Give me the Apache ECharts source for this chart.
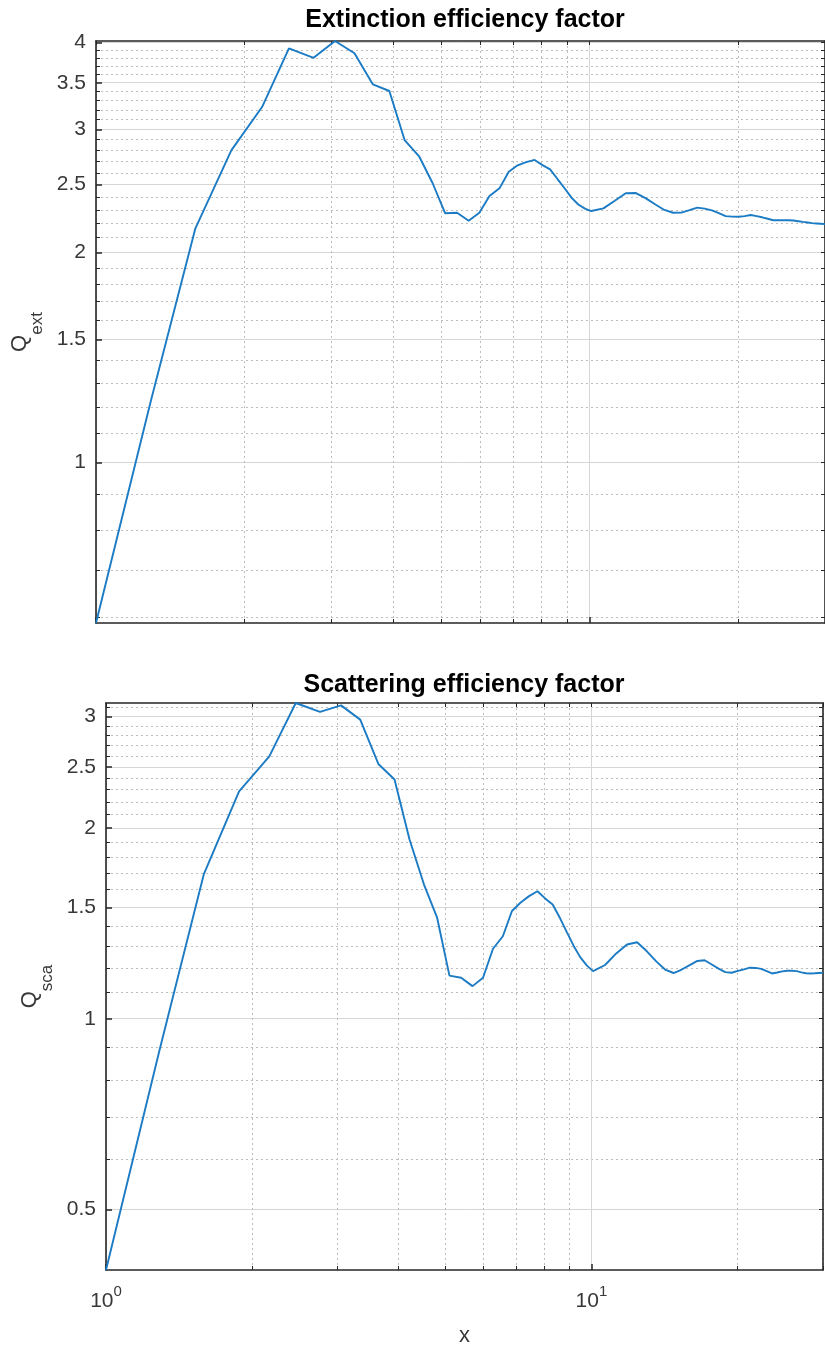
<!DOCTYPE html>
<html>
<head>
<meta charset="utf-8">
<title>Mie efficiency factors</title>
<script src="https://cdn.jsdelivr.net/npm/echarts@6/dist/echarts.min.js"></script>
<style>
  html, body { margin: 0; padding: 0; background: #ffffff; }
  #chart { width: 825px; height: 1348px; }
</style>
</head>
<body>
<div id="chart"></div>
<script>
// Size parameter x at which the efficiencies were evaluated
const sizeParam = [
  1.00, 1.29, 1.59, 1.88, 2.17, 2.46, 2.76, 3.05, 3.34, 3.64,
  3.93, 4.22, 4.52, 4.81, 5.10, 5.39, 5.69, 5.98, 6.27, 6.57,
  6.86, 7.15, 7.44, 7.74, 8.03, 8.32, 8.62, 8.91, 9.20, 9.49,
  9.79, 10.08, 10.67, 11.25, 11.84, 12.42, 13.01, 13.60, 14.18, 14.77,
  15.35, 15.94, 16.53, 17.11, 17.70, 18.28, 18.87, 19.45, 20.04, 20.63,
  21.21, 21.80, 22.38, 22.97, 23.56, 24.14, 24.73, 25.31, 25.90, 26.49,
  27.07, 27.66, 28.24, 28.83, 29.41, 30.00
];

// Extinction efficiency Q_ext
const qExt = [
  0.5885, 1.22, 2.165, 2.80, 3.23, 3.92, 3.80, 4.017, 3.857, 3.481,
  3.406, 2.897, 2.742, 2.512, 2.275, 2.279, 2.220, 2.279, 2.408, 2.470,
  2.609, 2.665, 2.694, 2.713, 2.667, 2.630, 2.545, 2.469, 2.394, 2.342,
  2.310, 2.292, 2.312, 2.371, 2.430, 2.432, 2.390, 2.342, 2.300, 2.279,
  2.280, 2.299, 2.318, 2.310, 2.297, 2.277, 2.254, 2.250, 2.249, 2.254,
  2.262, 2.254, 2.245, 2.234, 2.223, 2.223, 2.223, 2.223, 2.221, 2.216,
  2.211, 2.207, 2.202, 2.200, 2.198, 2.195
];

// Scattering efficiency Q_sca
const qSca = [
  0.401, 0.894, 1.690, 2.287, 2.597, 3.153, 3.052, 3.126, 2.968, 2.526,
  2.387, 1.919, 1.629, 1.444, 1.170, 1.161, 1.126, 1.161, 1.290, 1.350,
  1.480, 1.526, 1.562, 1.590, 1.549, 1.515, 1.441, 1.368, 1.302, 1.250,
  1.213, 1.189, 1.216, 1.268, 1.310, 1.321, 1.278, 1.232, 1.196, 1.181,
  1.196, 1.215, 1.234, 1.237, 1.218, 1.200, 1.185, 1.182, 1.190, 1.197,
  1.204, 1.203, 1.199, 1.189, 1.179, 1.183, 1.188, 1.191, 1.191, 1.189,
  1.184, 1.180, 1.179, 1.180, 1.181, 1.182
];

// Tick positions
const xMajorTicks = [1, 10];
const xMinorTicks = [2, 3, 4, 5, 6, 7, 8, 9, 20, 30];
const extMajorTicks = [1, 1.5, 2, 2.5, 3, 3.5, 4];
const extMinorTicks = [0.6, 0.7, 0.8, 0.9, 1.1, 1.2, 1.3, 1.4, 1.6, 1.7, 1.8, 1.9,
  2.1, 2.2, 2.3, 2.4, 2.6, 2.7, 2.8, 2.9, 3.1, 3.2, 3.3, 3.4, 3.6, 3.7, 3.8, 3.9];
const scaMajorTicks = [0.5, 1, 1.5, 2, 2.5, 3];
const scaMinorTicks = [0.6, 0.7, 0.8, 0.9, 1.1, 1.2, 1.3, 1.4, 1.6, 1.7, 1.8, 1.9,
  2.1, 2.2, 2.3, 2.4, 2.6, 2.7, 2.8, 2.9, 3.1];

const FONT = "'Liberation Sans', Arial, Helvetica, sans-serif";
const AXIS_COLOR = '#262626';
const TEXT_COLOR = '#383838';
const MAJOR_GRID = '#d6d6d6';
const MINOR_GRID = '#bdbdbd';
const LINE_COLOR = '#1b7bc4';

const X_MIN = 1, X_MAX = 30;

function allTicks(a, b) { return a.concat(b).sort((p, q) => p - q); }

// Three x axes per panel: major ticks + labels, dotted minor grid, mirrored top edge
function makeXAxes(gridIndex, withLabels) {
  const base = { type: 'log', logBase: 10, min: X_MIN, max: X_MAX, gridIndex: gridIndex };
  return [
    Object.assign({}, base, {
      position: 'bottom',
      name: withLabels ? 'x' : '',
      nameLocation: 'middle',
      nameGap: 55,
      nameTextStyle: { fontFamily: FONT, fontSize: 22, color: TEXT_COLOR },
      axisLine: { show: true, onZero: false, lineStyle: { color: AXIS_COLOR, width: 1.6 } },
      axisTick: { show: true, inside: true, length: 6, customValues: xMajorTicks,
        lineStyle: { color: AXIS_COLOR, width: 1.5 } },
      axisLabel: {
        show: withLabels, customValues: xMajorTicks, margin: 14,
        formatter: function (v) { return '{b|10}{e|' + Math.round(Math.log10(v)) + '}'; },
        rich: {
          b: { fontFamily: FONT, fontSize: 21, color: TEXT_COLOR, lineHeight: 28, verticalAlign: 'bottom' },
          e: { fontFamily: FONT, fontSize: 15, color: TEXT_COLOR, lineHeight: 28, verticalAlign: 'top' }
        }
      },
      splitLine: { show: true, lineStyle: { color: MAJOR_GRID, width: 1 } },
      minorTick: { show: false }, minorSplitLine: { show: false }
    }),
    Object.assign({}, base, {
      position: 'bottom',
      axisLine: { show: false, onZero: false },
      axisTick: { show: true, inside: true, length: 4, customValues: xMinorTicks,
        lineStyle: { color: AXIS_COLOR, width: 1 } },
      axisLabel: { show: false },
      splitLine: { show: true, lineStyle: { color: MINOR_GRID, width: 1, type: [2, 3] } }
    }),
    Object.assign({}, base, {
      position: 'top',
      axisLine: { show: true, onZero: false, lineStyle: { color: AXIS_COLOR, width: 1.6 } },
      axisTick: { show: true, inside: true, length: 4, customValues: allTicks(xMajorTicks, xMinorTicks),
        lineStyle: { color: AXIS_COLOR, width: 1 } },
      axisLabel: { show: false },
      splitLine: { show: false }
    })
  ];
}

// Three y axes per panel: major ticks + labels, dotted minor grid, mirrored right edge
function makeYAxes(gridIndex, values, major, minor, sub) {
  const base = { type: 'log', logBase: 10, min: Math.min.apply(null, values),
    max: Math.max.apply(null, values), gridIndex: gridIndex };
  return [
    Object.assign({}, base, {
      position: 'left',
      name: '{q|Q}{s|' + sub + '}',
      nameLocation: 'middle',
      nameRotate: 90,
      nameGap: 50,
      nameTextStyle: {
        rich: {
          q: { fontFamily: FONT, fontSize: 22, color: TEXT_COLOR, lineHeight: 26, verticalAlign: 'top' },
          s: { fontFamily: FONT, fontSize: 17, color: TEXT_COLOR, lineHeight: 37, verticalAlign: 'bottom' }
        }
      },
      axisLine: { show: true, onZero: false, lineStyle: { color: AXIS_COLOR, width: 1.6 } },
      axisTick: { show: true, inside: true, length: 6, customValues: major,
        lineStyle: { color: AXIS_COLOR, width: 1.5 } },
      axisLabel: { show: true, customValues: major, margin: 10,
        fontFamily: FONT, fontSize: 21, color: TEXT_COLOR,
        formatter: function (v) { return String(+v.toFixed(2)); } },
      splitLine: { show: true, lineStyle: { color: MAJOR_GRID, width: 1 } },
      minorTick: { show: false }, minorSplitLine: { show: false }
    }),
    Object.assign({}, base, {
      position: 'left',
      axisLine: { show: false, onZero: false },
      axisTick: { show: true, inside: true, length: 4, customValues: minor,
        lineStyle: { color: AXIS_COLOR, width: 1 } },
      axisLabel: { show: false },
      splitLine: { show: true, lineStyle: { color: MINOR_GRID, width: 1, type: [2, 3] } }
    }),
    Object.assign({}, base, {
      position: 'right',
      axisLine: { show: true, onZero: false, lineStyle: { color: AXIS_COLOR, width: 1.6 } },
      axisTick: { show: true, inside: true, length: 4, customValues: allTicks(major, minor),
        lineStyle: { color: AXIS_COLOR, width: 1 } },
      axisLabel: { show: false },
      splitLine: { show: false }
    })
  ];
}

const chart = echarts.init(document.getElementById('chart'), null, { renderer: 'canvas' });

const option = {
  animation: false,
  backgroundColor: '#ffffff',
  title: [
    { text: 'Extinction efficiency factor', left: 465, top: 8, textAlign: 'center', padding: 0,
      textStyle: { fontFamily: FONT, fontSize: 25, fontWeight: 'bold', color: '#000000' } },
    { text: 'Scattering efficiency factor', left: 464, top: 673, textAlign: 'center', padding: 0,
      textStyle: { fontFamily: FONT, fontSize: 25, fontWeight: 'bold', color: '#000000' } }
  ],
  grid: [
    { left: 96, top: 41, width: 738, height: 582, containLabel: false },
    { left: 106, top: 703, width: 717, height: 568, containLabel: false }
  ],
  xAxis: makeXAxes(0, false).concat(makeXAxes(1, true)),
  yAxis: makeYAxes(0, qExt, extMajorTicks, extMinorTicks, 'ext')
    .concat(makeYAxes(1, qSca, scaMajorTicks, scaMinorTicks, 'sca')),
  series: [
    {
      name: 'Q_ext', type: 'line', xAxisIndex: 0, yAxisIndex: 0,
      data: sizeParam.map((x, i) => [x, qExt[i]]),
      showSymbol: false, symbol: 'none', clip: true,
      lineStyle: { color: LINE_COLOR, width: 1.9 }, z: 5
    },
    {
      name: 'Q_sca', type: 'line', xAxisIndex: 3, yAxisIndex: 3,
      data: sizeParam.map((x, i) => [x, qSca[i]]),
      showSymbol: false, symbol: 'none', clip: true,
      lineStyle: { color: LINE_COLOR, width: 1.9 }, z: 5
    }
  ]
};

chart.setOption(option);
</script>
</body>
</html>
